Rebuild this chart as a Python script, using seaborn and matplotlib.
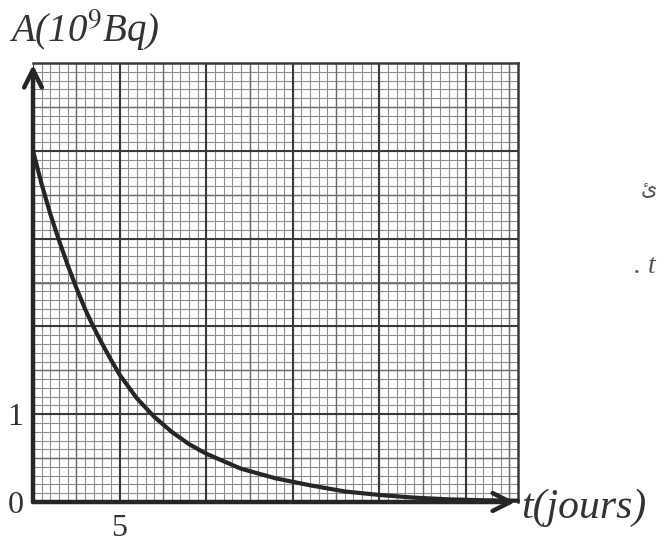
import numpy as np
import pandas as pd
import matplotlib
matplotlib.use("Agg")
import matplotlib.pyplot as plt
import seaborn as sns

# Activity readings A (10^9 Bq) versus time t (days)
t_days = [0, 0.5, 1, 1.5, 2, 2.5, 3, 3.5, 4, 4.5, 5, 6, 7, 8, 9, 10,
          12, 14, 16, 18, 20, 22, 24, 26, 28]
activity = [4.0, 3.62, 3.28, 2.98, 2.7, 2.44, 2.2, 1.99, 1.8, 1.62, 1.45,
            1.18, 0.97, 0.8, 0.66, 0.55, 0.38, 0.27, 0.19, 0.12, 0.08,
            0.05, 0.03, 0.02, 0.015]

x_major = [0, 5, 10, 15, 20, 25]
x_labels = ["", "5", "", "", "", ""]
y_major = [0, 1, 2, 3, 4, 5]
y_labels = ["0", "1", "", "", "", ""]

x_max, y_max = 28, 5

df = pd.DataFrame({"t": t_days, "A": activity})

sns.set_theme(style="white")
plt.rcParams["font.family"] = ["Liberation Serif", "DejaVu Serif"]

fig = plt.figure(figsize=(6.59, 5.44), dpi=100)
ax = fig.add_axes([33 / 659, 1 - 502 / 544, 485 / 659, 439 / 544])
ax.set_xlim(0, x_max)
ax.set_ylim(0, y_max)

# millimetre paper: fine, half-centimetre and centimetre rulings
for xv in np.arange(0.5, x_max, 0.5):
    ax.axvline(xv, color="#8c8c8c", lw=0.8, zorder=0)
for yv in np.arange(0.1, y_max, 0.1):
    ax.axhline(yv, color="#8c8c8c", lw=0.8, zorder=0)
for xv in np.arange(2.5, x_max, 5):
    ax.axvline(xv, color="#6a6a6a", lw=1.0, zorder=0)
for yv in np.arange(0.5, y_max, 1):
    ax.axhline(yv, color="#6a6a6a", lw=1.0, zorder=0)

ax.set_xticks(x_major)
ax.set_xticklabels(x_labels)
ax.set_yticks(y_major)
ax.set_yticklabels(y_labels)
ax.grid(True, which="major", color="#3a3a3a", lw=1.5, zorder=1)
ax.tick_params(length=0, labelsize=23, colors="#333333", pad=7)
ax.tick_params(axis="x", pad=9)

for side in ["top", "right"]:
    ax.spines[side].set_color("#3a3a3a")
    ax.spines[side].set_linewidth(1.8)
for side in ["left", "bottom"]:
    ax.spines[side].set_visible(False)

sns.lineplot(data=df, x="t", y="A", ax=ax, color="#262626", lw=3.0,
             zorder=4, clip_on=False)
ax.set_xlabel("")
ax.set_ylabel("")

# coordinate axes with open arrowheads
arrow = dict(arrowstyle="->", lw=3.2, color="#262626", mutation_scale=32,
             shrinkA=0, shrinkB=0)
ax.annotate("", xy=(x_max - 0.15, 0), xytext=(0, 0), arrowprops=arrow,
            annotation_clip=False, zorder=5)
ax.annotate("", xy=(0, y_max - 0.02), xytext=(0, 0), arrowprops=arrow,
            annotation_clip=False, zorder=5)

fig.text(9 / 659, 1 - 42 / 544, r"A(10$^{9}$Bq)", fontsize=28,
         style="italic", color="#333333", ha="left", va="baseline",
         math_fontfamily="stix")
fig.text(521 / 659, 1 - 518 / 544, "t(jours)", fontsize=30, style="italic",
         color="#333333", ha="left", va="baseline")

# fragments of neighbouring page text at the right margin
fig.text(641 / 659, 1 - 195 / 544, "ئ", fontsize=15, color="#555555",
         family="DejaVu Sans", ha="left", va="baseline")
fig.text(634 / 659, 1 - 273 / 544, ". t", fontsize=20, style="italic",
         color="#555555", ha="left", va="baseline")

fig.savefig("out.png", dpi=100, facecolor="white")
